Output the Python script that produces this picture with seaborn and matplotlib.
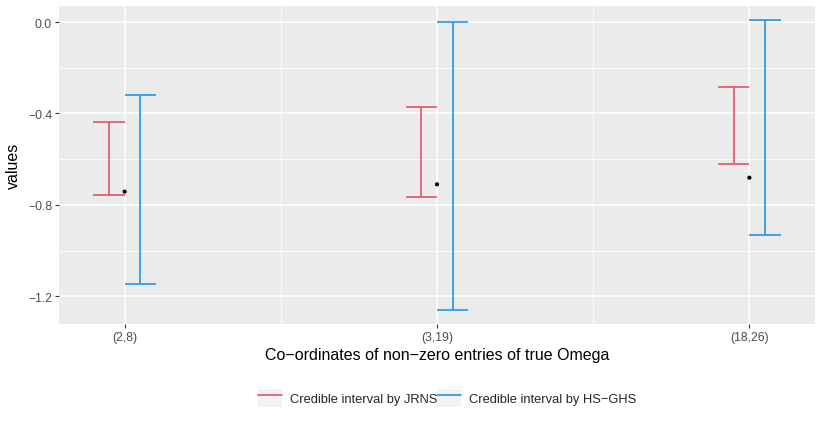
import matplotlib
matplotlib.use("Agg")
import matplotlib.pyplot as plt
import seaborn as sns
import numpy as np
import pandas as pd
from matplotlib.lines import Line2D
from matplotlib.patches import Rectangle
from matplotlib.legend_handler import HandlerTuple
from matplotlib.ticker import FixedLocator, FuncFormatter

# data
coords = ["(2,8)", "(3,19)", "(18,26)"]
truth = [-0.742, -0.710, -0.681]
jrns_lower = [-0.757, -0.764, -0.623]
jrns_upper = [-0.439, -0.370, -0.285]
hsghs_lower = [-1.145, -1.258, -0.931]
hsghs_upper = [-0.321, 0.002, 0.007]

RED = "#DF536B"
BLUE = "#2297E6"

sns.set_theme(style="darkgrid", rc={
    "axes.facecolor": "#EBEBEB",
    "grid.color": "white",
})
plt.rcParams["font.family"] = ["Liberation Sans", "DejaVu Sans"]

pos = np.arange(1, len(coords) + 1)
df = pd.DataFrame({"x": pos, "coord": coords, "truth": truth})

fig = plt.figure(figsize=(8.22, 4.27), dpi=100)
ax = fig.add_axes([59 / 822, 1 - 325 / 427, (815 - 59) / 822, (325 - 7) / 427])

dodge, cap = 0.05, 0.05
for lo, hi, off, col in [(jrns_lower, jrns_upper, -dodge, RED),
                         (hsghs_lower, hsghs_upper, dodge, BLUE)]:
    xs = pos + off
    ax.vlines(xs, lo, hi, color=col, lw=1.2)
    ax.hlines(lo, xs - cap, xs + cap, color=col, lw=1.2)
    ax.hlines(hi, xs - cap, xs + cap, color=col, lw=1.2)

sns.scatterplot(data=df, x="x", y="truth", color="black", s=9, edgecolor="none",
                ax=ax, zorder=5, legend=False)

ax.set_xlim(0.79, 3.21)
ax.set_ylim(-1.321, 0.07)
ax.xaxis.set_major_locator(FixedLocator(pos))
ax.xaxis.set_minor_locator(FixedLocator([1.5, 2.5]))
ax.set_xticklabels(coords)
ax.yaxis.set_major_locator(FixedLocator([0.0, -0.4, -0.8, -1.2]))
ax.yaxis.set_minor_locator(FixedLocator([-0.2, -0.6, -1.0]))
ax.yaxis.set_major_formatter(FuncFormatter(
    lambda v, _: f"{abs(v):.1f}" if abs(v) < 1e-9 else f"{v:.1f}".replace("-", "\u2212")))
ax.grid(which="major", color="white", lw=1.1)
ax.grid(which="minor", color="white", lw=0.55)
for s in ax.spines.values():
    s.set_visible(False)
ax.tick_params(which="major", length=3, width=0.8, color="#333333",
               labelsize=8.8, labelcolor="#4D4D4D", pad=2, bottom=True, left=True)
ax.tick_params(which="minor", length=0)
ax.set_xlabel("Co\u2212ordinates of non\u2212zero entries of true Omega",
              fontsize=11.5, color="black", labelpad=3)
ax.set_ylabel("values", fontsize=11.5, color="black", labelpad=5)

handles = [
    (Rectangle((0, 0), 1, 1, facecolor="#F2F2F2", edgecolor="none"),
     Line2D([], [], color=RED, lw=1.2)),
    (Rectangle((0, 0), 1, 1, facecolor="#F2F2F2", edgecolor="none"),
     Line2D([], [], color=BLUE, lw=1.2)),
]
fig.legend(handles, ["Credible interval by JRNS", "Credible interval by HS\u2212GHS"],
           handler_map={tuple: HandlerTuple(ndivide=1, pad=0)},
           loc="center", bbox_to_anchor=(447 / 822, 1 - 399 / 427), ncol=2,
           frameon=False, fontsize=9.3, handlelength=1.85, handleheight=1.85,
           handletextpad=0.6, columnspacing=0.0)

fig.savefig("out.png", dpi=100)
